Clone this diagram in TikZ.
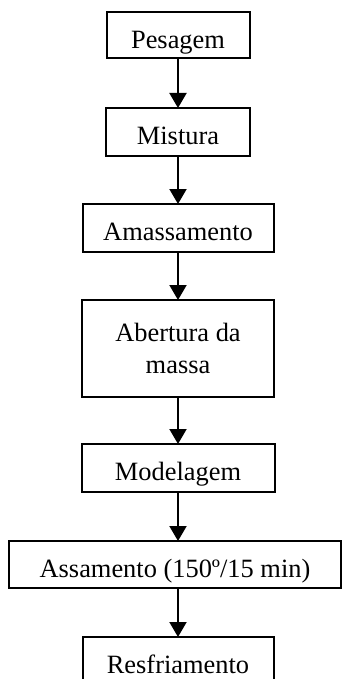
\documentclass[tikz,border=0pt]{standalone}
\usepackage{fontspec}
\setmainfont{Liberation Serif}
\usetikzlibrary{arrows.meta}
\begin{document}
\begin{tikzpicture}[x=1pt,y=-1pt,
  basebox/.style={draw, line width=2pt, inner sep=0pt, outer sep=0pt,
    font=\fontsize{26.4}{31.7}\selectfont, align=center},
  stepbox/.style={basebox, minimum height=48pt, text height=25.4pt, text depth=0pt},
  flow/.style={-{Triangle[width=17pt,length=15pt]}, line width=2pt}]
\clip (0,0) rectangle (342,679);
\useasboundingbox (0,0) rectangle (342,679);
\node[stepbox, minimum width=143pt, minimum height=46pt] (pes) at (178,35.5) {Pesagem};
\node[stepbox, minimum width=144pt] (mis) at (178,132) {Mistura};
\node[stepbox, minimum width=191pt] (ama) at (178,228) {Amassamento};
\node[basebox, minimum width=192pt, minimum height=97pt] (abe) at (178,348.5) {Abertura da\\massa};
\node[stepbox, minimum width=193pt] (mod) at (178,468) {Modelagem};
\node[stepbox, minimum width=332pt, minimum height=47pt] (ass) at (175,564.5) {Assamento (150º/15 min)};
\node[stepbox, minimum width=191pt] (res) at (178,661) {Resfriamento};
\draw[flow] (pes) -- (mis);
\draw[flow] (mis) -- (ama);
\draw[flow] (ama) -- (abe);
\draw[flow] (abe) -- (mod);
\draw[flow] (mod.south) -- (mod.south |- ass.north);
\draw[flow] (ass.south -| res.north) -- (res.north);
\end{tikzpicture}
\end{document}
